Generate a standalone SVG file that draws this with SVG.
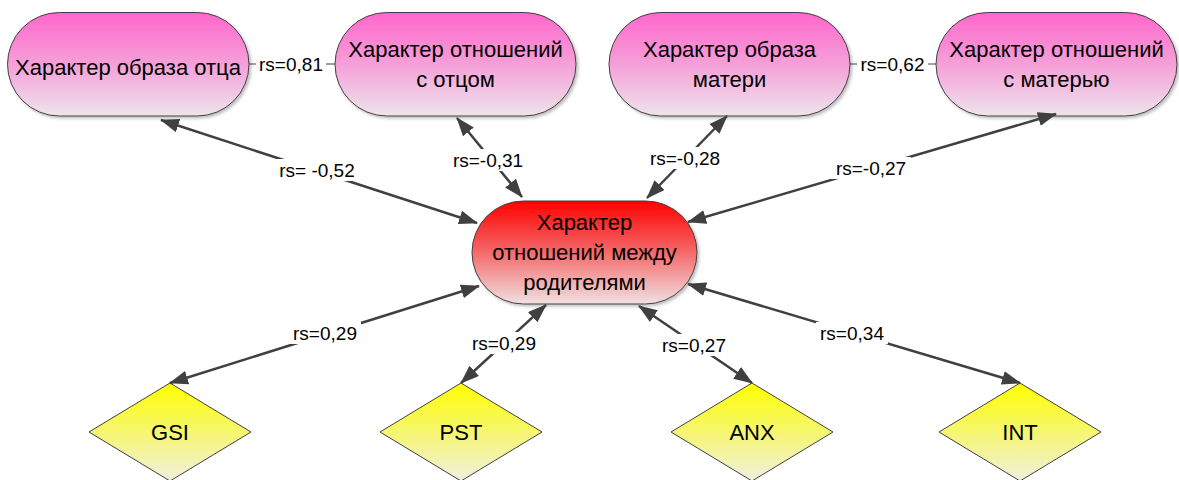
<svg xmlns="http://www.w3.org/2000/svg" width="1179" height="480" viewBox="0 0 1179 480">
<defs>
<linearGradient id="gPink" x1="0" y1="0" x2="0" y2="1">
<stop offset="0" stop-color="#ff66cc"/>
<stop offset="0.5" stop-color="#f5a0d8"/>
<stop offset="1" stop-color="#eee4ec"/>
</linearGradient>
<linearGradient id="gRed" x1="0" y1="0" x2="0" y2="1">
<stop offset="0" stop-color="#ff0000"/>
<stop offset="0.5" stop-color="#f56a6a"/>
<stop offset="1" stop-color="#f0e0e2"/>
</linearGradient>
<linearGradient id="gYel" x1="0" y1="0" x2="0" y2="1">
<stop offset="0" stop-color="#ffff00"/>
<stop offset="0.5" stop-color="#f6f670"/>
<stop offset="1" stop-color="#f0f0e0"/>
</linearGradient>
<filter id="sh" x="-10%" y="-10%" width="130%" height="130%">
<feDropShadow dx="2" dy="2" stdDeviation="1.5" flood-color="#000" flood-opacity="0.25"/>
</filter>
<marker id="ah" viewBox="0 0 19 14" markerWidth="19" markerHeight="14" refX="18" refY="7" orient="auto-start-reverse" markerUnits="userSpaceOnUse">
<path d="M0,0 L19,7 L0,14 z" fill="#404040"/>
</marker>
<style>
.cap{stroke:#404040;stroke-width:1}
.nt{font-family:"Liberation Sans",Arial,sans-serif;font-size:22px;fill:#000;text-anchor:middle}
.lt{font-family:"Liberation Sans",Arial,sans-serif;font-size:19px;fill:#000;text-anchor:middle;dominant-baseline:central}
.cn{stroke:#404040;stroke-width:2.5;fill:none;marker-start:url(#ah);marker-end:url(#ah)}
.thin{stroke:#404040;stroke-width:1;fill:none}
.lb{fill:#fff}
</style>
</defs>
<rect width="1179" height="480" fill="#fff"/>

<g id="node-father-image">
<rect class="cap" x="7.5" y="12.5" width="241.5" height="103.5" rx="51.75" fill="url(#gPink)" filter="url(#sh)"/>
<text class="nt" x="128" y="75">Характер образа отца</text>
</g>
<g id="node-father-rel">
<rect class="cap" x="335" y="12.5" width="241" height="103.5" rx="51.75" fill="url(#gPink)" filter="url(#sh)"/>
<text class="nt" x="455.5" y="57">Характер отношений</text>
<text class="nt" x="455.5" y="87">с отцом</text>
</g>
<g id="node-mother-image">
<rect class="cap" x="609" y="12.5" width="241" height="103.5" rx="51.75" fill="url(#gPink)" filter="url(#sh)"/>
<text class="nt" x="729.5" y="57">Характер образа</text>
<text class="nt" x="729.5" y="87">матери</text>
</g>
<g id="node-mother-rel">
<rect class="cap" x="936" y="12.5" width="241" height="103.5" rx="51.75" fill="url(#gPink)" filter="url(#sh)"/>
<text class="nt" x="1056.5" y="57">Характер отношений</text>
<text class="nt" x="1056.5" y="87">с матерью</text>
</g>
<g id="node-parents">
<rect class="cap" x="472" y="201" width="225" height="103" rx="51.5" fill="url(#gRed)" filter="url(#sh)"/>
<text class="nt" x="584.5" y="230">Характер</text>
<text class="nt" x="584.5" y="260">отношений между</text>
<text class="nt" x="584.5" y="290">родителями</text>
</g>
<g id="node-gsi">
<polygon class="cap" points="170,383 251,432 170,481 89,432" fill="url(#gYel)"/>
<text class="nt" x="170" y="440">GSI</text>
</g>
<g id="node-pst">
<polygon class="cap" points="461,383 542,432 461,481 380,432" fill="url(#gYel)"/>
<text class="nt" x="461" y="440">PST</text>
</g>
<g id="node-anx">
<polygon class="cap" points="752,383 833,432 752,481 671,432" fill="url(#gYel)"/>
<text class="nt" x="752" y="440">ANX</text>
</g>
<g id="node-int">
<polygon class="cap" points="1020,383 1101,432 1020,481 939,432" fill="url(#gYel)"/>
<text class="nt" x="1020" y="440">INT</text>
</g>

<g id="connectors">
<path class="thin" d="M249,64 H335"/>
<rect class="lb" x="256" y="53" width="70" height="22"/>
<text class="lt" x="291" y="64">rs=0,81</text>

<path class="thin" d="M850,64 H936"/>
<rect class="lb" x="857" y="53" width="71" height="22"/>
<text class="lt" x="892.5" y="64">rs=0,62</text>

<path class="cn" d="M161,120 L477,223"/>
<rect class="lb" x="275" y="159" width="85" height="22"/>
<text class="lt" x="317" y="170">rs= -0,52</text>

<path class="cn" d="M457,118 L522,197"/>
<rect class="lb" x="448" y="149" width="80" height="22"/>
<text class="lt" x="488" y="160">rs=-0,31</text>

<path class="cn" d="M727,116 L647,198"/>
<rect class="lb" x="645" y="147" width="80" height="22"/>
<text class="lt" x="685" y="158">rs=-0,28</text>

<path class="cn" d="M1056,114 L688,222"/>
<rect class="lb" x="831" y="157" width="80" height="22"/>
<text class="lt" x="871" y="168">rs=-0,27</text>

<path class="cn" d="M479,286 L170,383"/>
<rect class="lb" x="289" y="322" width="72" height="22"/>
<text class="lt" x="325" y="333">rs=0,29</text>

<path class="cn" d="M546,305 L461,383"/>
<rect class="lb" x="468" y="332" width="72" height="22"/>
<text class="lt" x="504" y="343">rs=0,29</text>

<path class="cn" d="M639,306 L752,383"/>
<rect class="lb" x="658" y="334" width="72" height="22"/>
<text class="lt" x="694" y="345">rs=0,27</text>

<path class="cn" d="M688,284 L1020,383"/>
<rect class="lb" x="816" y="322" width="72" height="22"/>
<text class="lt" x="852" y="333">rs=0,34</text>
</g>
</svg>
